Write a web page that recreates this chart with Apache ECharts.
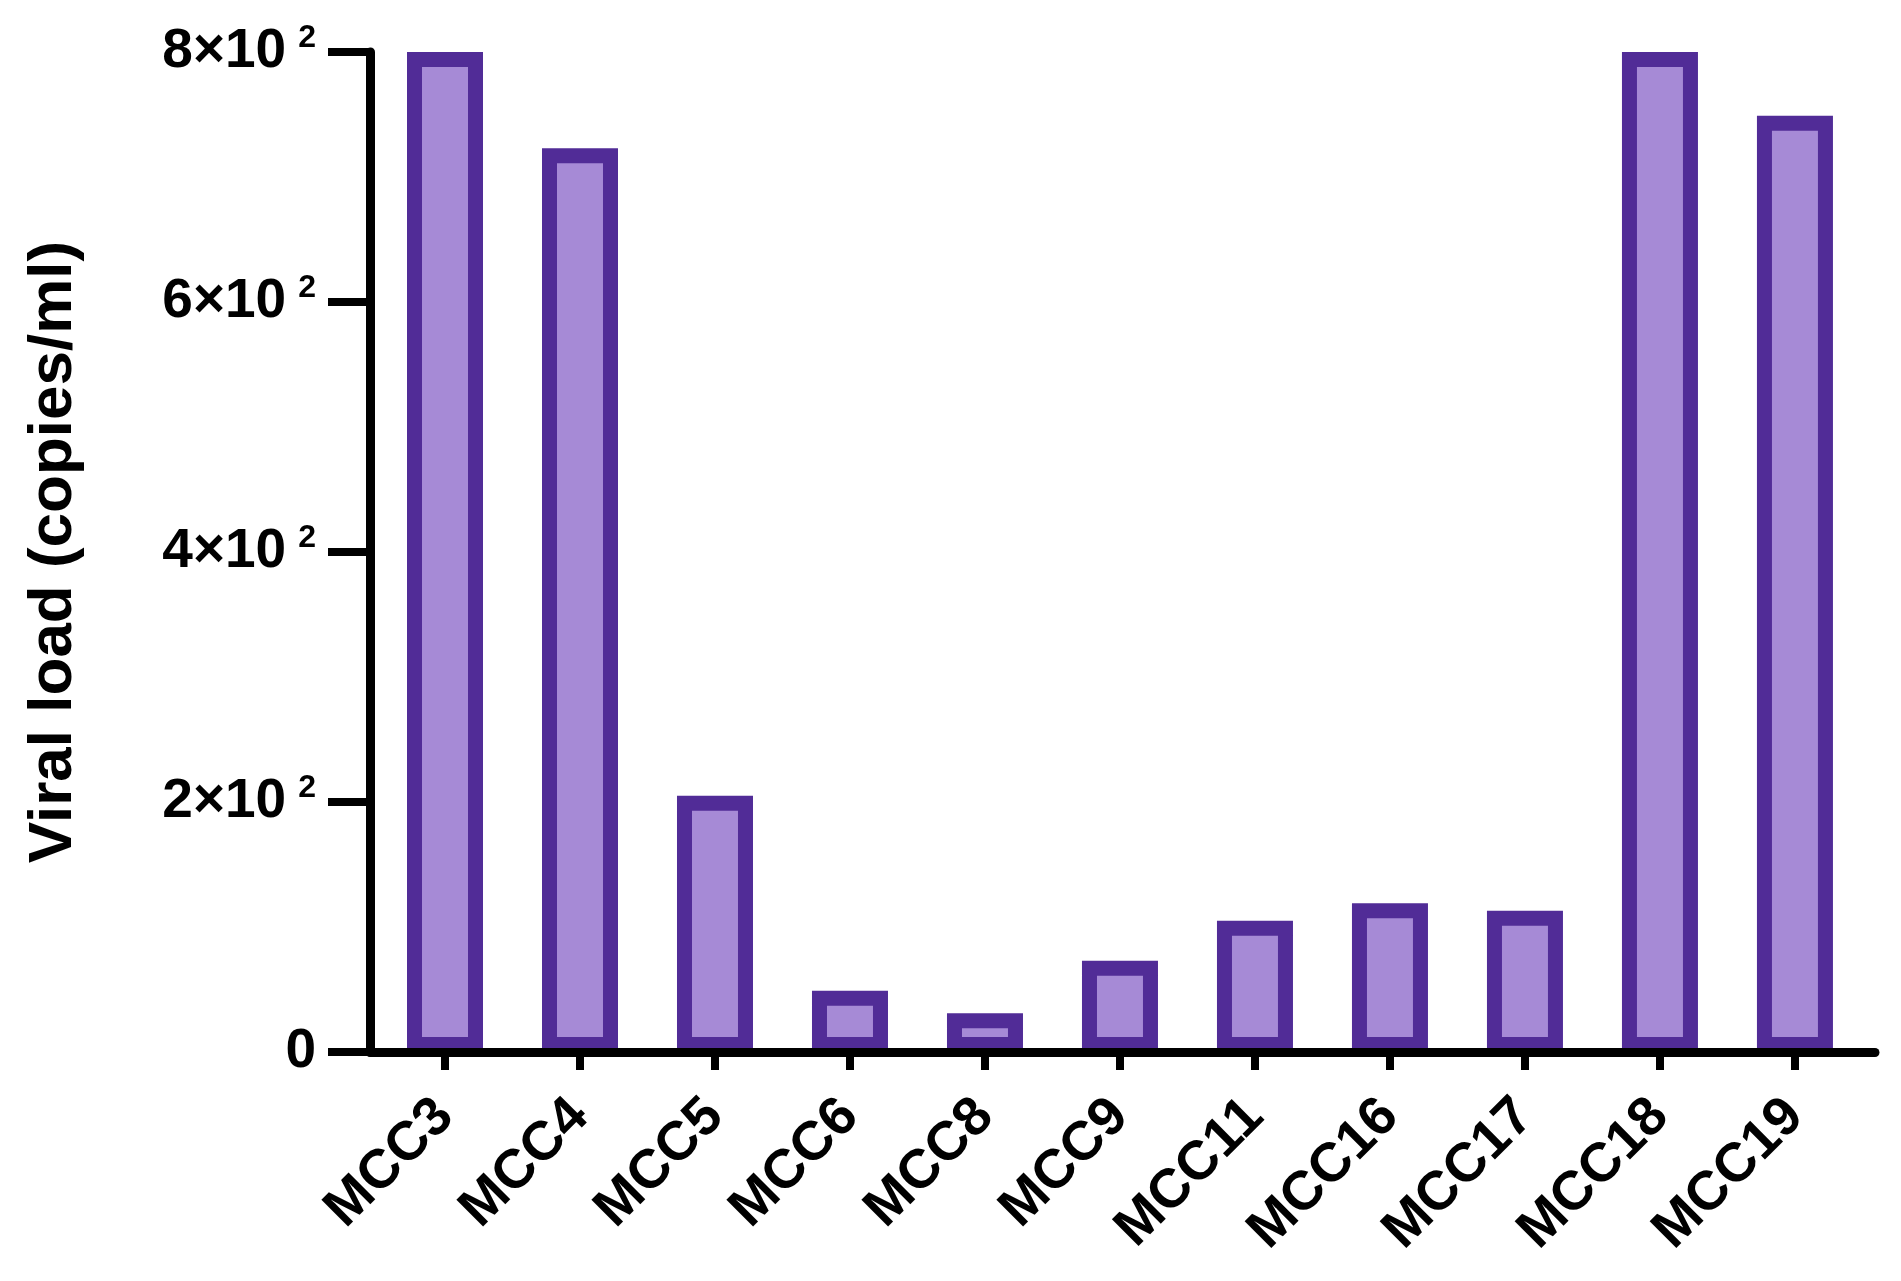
<!DOCTYPE html>
<html>
<head>
<meta charset="utf-8">
<script src="https://cdn.jsdelivr.net/npm/echarts@6/dist/echarts.min.js"></script>
<style>
  html, body { margin: 0; padding: 0; background: #fff; }
  #main { width: 1901px; height: 1281px; }
</style>
</head>
<body>
<div id="main"></div>
<script>
// samples on the x axis
var categories = ['MCC3', 'MCC4', 'MCC5', 'MCC6', 'MCC8', 'MCC9', 'MCC11', 'MCC16', 'MCC17', 'MCC18', 'MCC19'];
// viral load, copies/ml
var viralLoad = [800, 723, 205, 49, 31, 73, 105, 119, 113, 800, 749];
// y ticks
var yTicks = [0, 200, 400, 600, 800];

var font = 'Liberation Sans, Arial, sans-serif';

function drawChart() {
	var myChart = echarts.init(document.getElementById('main'));

	var points = [];
	for (var i = 0; i < categories.length; i++) {
		points.push([i, viralLoad[i]]);
	}
	var idx = [];
	for (var j = 0; j < categories.length; j++) idx.push(j);

	var option = {
		animation: false,
		grid: { left: 370, right: 26, top: 52, bottom: 229, containLabel: false, outerBoundsMode: 'none' },
		xAxis: {
			type: 'value',
			min: -0.5556,
			max: 10.593,
			z: 5,
			splitLine: { show: false },
			axisLine: { show: true, onZero: false, lineStyle: { color: '#000', width: 9 } },
			axisTick: { show: true, customValues: idx, length: 18, lineStyle: { color: '#000', width: 8 } },
			axisLabel: {
				customValues: idx,
				rotate: 45,
				margin: 56,
				color: '#000',
				fontFamily: font,
				fontWeight: 'bold',
				fontSize: 55,
				formatter: function (v) { return categories[v]; }
			}
		},
		yAxis: {
			type: 'value',
			min: 0,
			max: 800,
			interval: 200,
			name: 'Viral load (copies/ml)',
			nameLocation: 'middle',
			nameGap: 285,
			nameTextStyle: { color: '#000', fontFamily: font, fontWeight: 'bold', fontSize: 62 },
			splitLine: { show: false },
			axisLine: { show: true, onZero: false, lineStyle: { color: '#000', width: 9 } },
			axisTick: { show: true, customValues: yTicks, length: 42, lineStyle: { color: '#000', width: 8 } },
			axisLabel: {
				customValues: yTicks,
				margin: 54,
				color: '#000',
				fontFamily: font,
				fontWeight: 'bold',
				fontSize: 55,
				formatter: function (v) {
					if (v === 0) return '{b|0}';
					return '{b|' + (v / 100) + '×10}{s|2}';
				},
				rich: {
					b: { fontFamily: font, fontWeight: 'bold', fontSize: 55, lineHeight: 60, color: '#000' },
					s: { fontFamily: font, fontWeight: 'bold', fontSize: 32, lineHeight: 28, verticalAlign: 'top', padding: [0, 0, 0, 12], color: '#000' }
				}
			}
		},
		series: [{
			type: 'bar',
			data: points,
			barWidth: 76,
			itemStyle: { color: '#A68AD6', borderColor: '#512C97', borderWidth: 15 }
		}]
	};
	myChart.setOption(option);
}

drawChart();
</script>
</body>
</html>
